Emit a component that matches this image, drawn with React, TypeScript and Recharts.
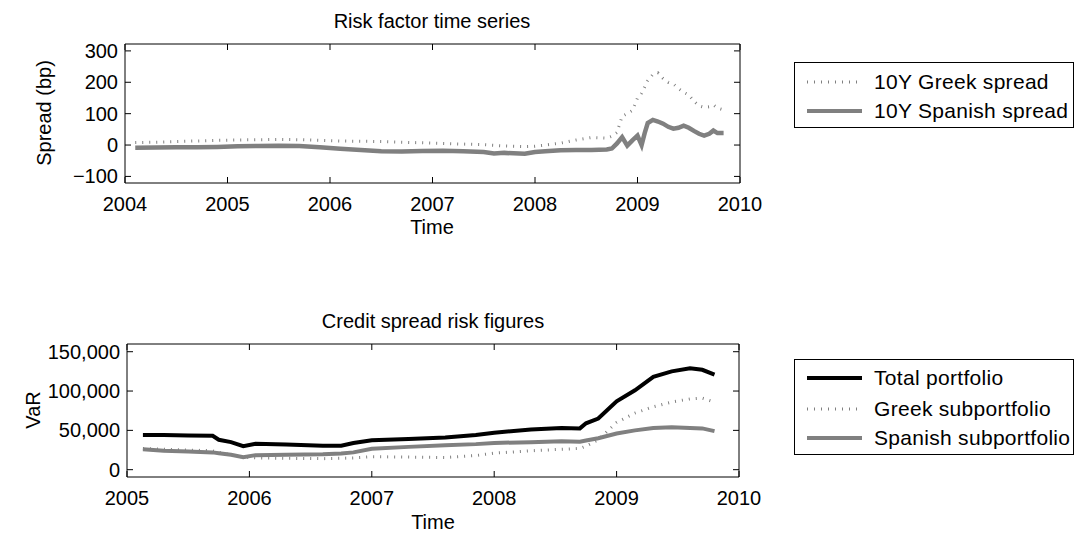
import { LineChart, Line, XAxis, YAxis } from 'recharts'

// top panel: 10Y spreads in bp
const spreadTime = [
  2004.1, 2004.3, 2004.5, 2004.7, 2004.9, 2005.1, 2005.3, 2005.5, 2005.7, 2005.9,
  2006.1, 2006.3, 2006.5, 2006.7, 2006.9, 2007.1, 2007.3, 2007.5, 2007.6, 2007.7,
  2007.9, 2008.0, 2008.1, 2008.25, 2008.4, 2008.55, 2008.7, 2008.75, 2008.8, 2008.85,
  2008.9, 2008.95, 2009.0, 2009.04, 2009.07, 2009.1, 2009.15, 2009.2, 2009.25, 2009.3,
  2009.35, 2009.4, 2009.45, 2009.5, 2009.55, 2009.6, 2009.65, 2009.7, 2009.74, 2009.78,
  2009.84,
]
const greekSpread = [
  8, 9, 11, 13, 15, 16, 17, 18, 17, 15,
  13, 12, 11, 9, 7, 5, 3, 1, -1, -3,
  -5, -4, 0, 6, 16, 24, 22, 28, 40, 92,
  100, 110, 150, 165, 185, 205, 225, 230, 212, 200,
  195, 180, 168, 160, 140, 125, 120, 122, 128, 118,
  112,
]
const spanishSpread = [
  -9, -8, -7, -7, -6, -4, -3, -2, -3, -7,
  -12, -16, -20, -21, -19, -18, -20, -22, -27, -25,
  -28, -22, -20, -17, -16, -16, -14, -11, 5, 25,
  -2, 15, 30, 0, 38, 70, 80, 75, 68, 58,
  52, 55, 62, 55, 45, 36, 30, 36, 46, 38,
  38,
]
const spreadYears = [2004, 2005, 2006, 2007, 2008, 2009, 2010]
const spreadTicks = [-100, 0, 100, 200, 300]
const spreadNames = ['10Y Greek spread', '10Y Spanish spread']

// bottom panel: VaR figures
const varTime = [
  2005.13, 2005.3, 2005.5, 2005.7, 2005.75, 2005.85, 2005.95, 2006.05, 2006.3, 2006.6,
  2006.75, 2006.85, 2007.0, 2007.3, 2007.6, 2007.85, 2008.0, 2008.3, 2008.55, 2008.7,
  2008.75, 2008.85, 2009.0, 2009.15, 2009.3, 2009.45, 2009.6, 2009.7, 2009.8,
]
const totalVaR = [
  44000, 44000, 43500, 43000, 38000, 35000, 30000, 33000, 32000, 30500,
  30500, 34000, 37500, 39000, 41000, 44000, 47000, 51000, 53000, 52500,
  59000, 65000, 87000, 101000, 118000, 125000, 129000, 127000, 121000,
]
const greekVaR = [
  27000, 26000, 25000, 24000, 22000, 19000, 16000, 15000, 14500, 14000,
  14500, 15000, 16500, 16000, 15500, 18000, 21000, 24000, 26000, 27000,
  30000, 38000, 60000, 72000, 80000, 86000, 90000, 91000, 86000,
]
const spanishVaR = [
  26000, 24000, 23000, 22000, 21000, 19000, 16000, 18500, 19000, 19500,
  20500, 22000, 26500, 29000, 31000, 32500, 34000, 35000, 36000, 35500,
  37000, 40000, 46000, 50000, 53000, 54000, 53000, 52500, 49000,
]
const varYears = [2005, 2006, 2007, 2008, 2009, 2010]
const varTicks = [0, 50000, 100000, 150000]
const varNames = ['Total portfolio', 'Greek subportfolio', 'Spanish subportfolio']

const spreadData = spreadTime.map((t, i) => ({ t, greek: greekSpread[i], spanish: spanishSpread[i] }))
const varData = varTime.map((t, i) => ({ t, total: totalVaR[i], greek: greekVaR[i], spanish: spanishVaR[i] }))

const FONT = '"Liberation Sans", Arial, Helvetica, sans-serif'
const FS = 20
const TL = 6
const GREY = '#808080'

const fmtSpread = (v: number) => (v < 0 ? '\u2212' + Math.abs(v) : String(v))
const fmtVaR = (v: number) => v.toLocaleString('en-US')

function tickLeft(fmt: (v: number) => string) {
  return (p: any) => (
    <g>
      <line x1={p.x} x2={p.x + TL} y1={p.y} y2={p.y} stroke="#000" />
      <text x={p.x - 7} y={p.y} dy="0.35em" textAnchor="end" fontSize={FS} fontFamily={FONT} fill="#000">
        {fmt(p.payload.value)}
      </text>
    </g>
  )
}
const tickRight = (p: any) => <line x1={p.x} x2={p.x - TL} y1={p.y} y2={p.y} stroke="#000" />
const tickTop = (p: any) => <line x1={p.x} x2={p.x} y1={p.y} y2={p.y + TL} stroke="#000" />
const tickBottom = (p: any) => (
  <g>
    <line x1={p.x} x2={p.x} y1={p.y} y2={p.y - TL} stroke="#000" />
    <text x={p.x} y={p.y + 21} dy="0.35em" textAnchor="middle" fontSize={FS} fontFamily={FONT} fill="#000">
      {p.payload.value}
    </text>
  </g>
)

function Txt({ x, y, children, rotate = 0 }: { x: number; y: number; children: string; rotate?: number }) {
  return (
    <div style={{
      position: 'absolute', left: x, top: y, whiteSpace: 'nowrap',
      transform: `translate(-50%, -50%) rotate(${rotate}deg)`,
      fontFamily: FONT, fontSize: FS, color: '#000', lineHeight: 1,
    }}>
      {children}
    </div>
  )
}

type Entry = { name: string; color: string; width: number; dash?: string }

function LegendBox({ left, top, width, height, rows, entries }: {
  left: number; top: number; width: number; height: number; rows: number[]; entries: Entry[]
}) {
  return (
    <svg width={width} height={height} style={{ position: 'absolute', left, top }}>
      <rect x={0.5} y={0.5} width={width - 1} height={height - 1} fill="#fff" stroke="#000" />
      {entries.map((e, i) => (
        <g key={e.name}>
          <line x1={13} x2={68} y1={rows[i]} y2={rows[i]} stroke={e.color} strokeWidth={e.width} strokeDasharray={e.dash} />
          <text x={80} y={rows[i]} dy="0.35em" fontSize={21} letterSpacing={0.3} fontFamily={FONT} fill="#000">{e.name}</text>
        </g>
      ))}
    </svg>
  )
}

export default function App() {
  return (
    <div style={{ position: 'absolute', left: 0, top: 0, width: 1079, height: 534, background: '#fff', overflow: 'hidden' }}>
      <div style={{ position: 'absolute', left: 0, top: 0 }}>
        <LineChart width={1079} height={260} data={spreadData} margin={{ top: 34, right: 329, bottom: 37, left: 65 }}>
          <XAxis dataKey="t" type="number" domain={[2004, 2010]} ticks={spreadYears} interval={0}
            tickSize={0} tickMargin={0} height={40} axisLine={{ stroke: '#000' }} tick={tickBottom} allowDataOverflow />
          <XAxis xAxisId="top" dataKey="t" type="number" orientation="top" domain={[2004, 2010]} ticks={spreadYears}
            interval={0} tickSize={0} tickMargin={0} height={10} axisLine={{ stroke: '#000' }} tick={tickTop} allowDataOverflow />
          <YAxis type="number" domain={[-121, 322]} ticks={spreadTicks} interval={0} tickSize={0} tickMargin={0}
            width={60} axisLine={{ stroke: '#000' }} tick={tickLeft(fmtSpread)} allowDataOverflow />
          <YAxis yAxisId="right" orientation="right" type="number" domain={[-121, 322]} ticks={spreadTicks} interval={0}
            tickSize={0} tickMargin={0} width={10} axisLine={{ stroke: '#000' }} tick={tickRight} allowDataOverflow />
          <Line dataKey="greek" stroke={GREY} strokeWidth={3} strokeDasharray="1 6" dot={false} isAnimationActive={false} />
          <Line dataKey="spanish" stroke={GREY} strokeWidth={4.5} dot={false} isAnimationActive={false} />
        </LineChart>
      </div>

      <div style={{ position: 'absolute', left: 0, top: 260 }}>
        <LineChart width={1079} height={274} data={varData} margin={{ top: 74, right: 330, bottom: 17, left: 67 }}>
          <XAxis dataKey="t" type="number" domain={[2005, 2010]} ticks={varYears} interval={0}
            tickSize={0} tickMargin={0} height={40} axisLine={{ stroke: '#000' }} tick={tickBottom} allowDataOverflow />
          <XAxis xAxisId="top" dataKey="t" type="number" orientation="top" domain={[2005, 2010]} ticks={varYears}
            interval={0} tickSize={0} tickMargin={0} height={10} axisLine={{ stroke: '#000' }} tick={tickTop} allowDataOverflow />
          <YAxis type="number" domain={[-9300, 159800]} ticks={varTicks} interval={0} tickSize={0} tickMargin={0}
            width={60} axisLine={{ stroke: '#000' }} tick={tickLeft(fmtVaR)} allowDataOverflow />
          <YAxis yAxisId="right" orientation="right" type="number" domain={[-9300, 159800]} ticks={varTicks} interval={0}
            tickSize={0} tickMargin={0} width={10} axisLine={{ stroke: '#000' }} tick={tickRight} allowDataOverflow />
          <Line dataKey="greek" stroke={GREY} strokeWidth={3} strokeDasharray="1 6" dot={false} isAnimationActive={false} />
          <Line dataKey="spanish" stroke={GREY} strokeWidth={4} dot={false} isAnimationActive={false} />
          <Line dataKey="total" stroke="#000" strokeWidth={4} dot={false} isAnimationActive={false} />
        </LineChart>
      </div>

      <Txt x={432} y={21}>Risk factor time series</Txt>
      <Txt x={432} y={227}>Time</Txt>
      <Txt x={44} y={113} rotate={-90}>Spread (bp)</Txt>

      <Txt x={433} y={321}>Credit spread risk figures</Txt>
      <Txt x={433} y={522}>Time</Txt>
      <Txt x={33} y={410} rotate={-90}>VaR</Txt>

      <LegendBox left={794} top={62} width={280} height={66} rows={[20, 49]}
        entries={[
          { name: spreadNames[0], color: GREY, width: 3, dash: '1 6' },
          { name: spreadNames[1], color: GREY, width: 4 },
        ]} />
      <LegendBox left={794} top={359} width={280} height={96} rows={[19, 50, 79]}
        entries={[
          { name: varNames[0], color: '#000', width: 4 },
          { name: varNames[1], color: GREY, width: 3, dash: '1 6' },
          { name: varNames[2], color: GREY, width: 4 },
        ]} />
    </div>
  )
}
